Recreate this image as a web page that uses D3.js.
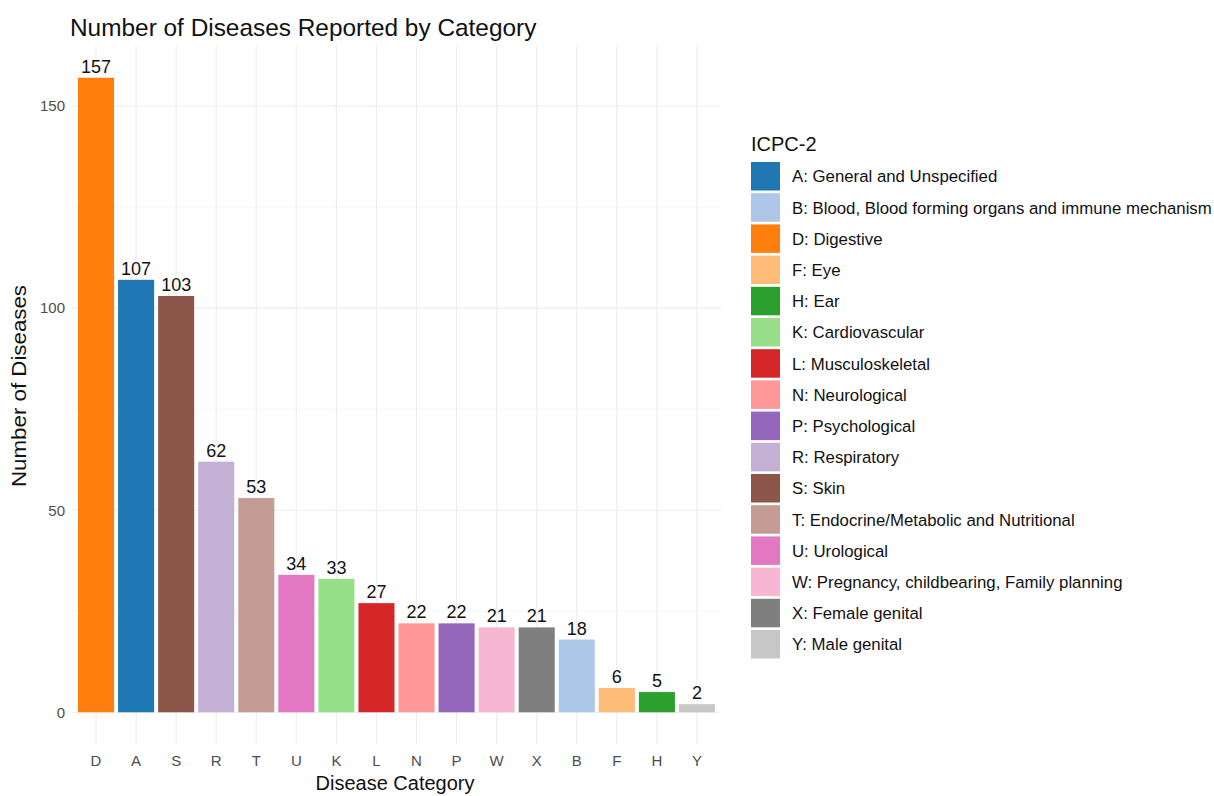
<!DOCTYPE html>
<html>
<head>
<meta charset="utf-8">
<script src="https://cdn.jsdelivr.net/npm/d3@7"></script>
<style>
  html, body { margin: 0; padding: 0; background: #fff; overflow: hidden; }
  svg { display: block; font-family: "Liberation Sans", Arial, sans-serif; }
</style>
</head>
<body>
<svg id="chart" width="1214" height="796"></svg>
<script>
// Categories in plotted order (sorted by count) and their counts
const categories = ["D", "A", "S", "R", "T", "U", "K", "L", "N", "P", "W", "X", "B", "F", "H", "Y"];
const counts = [157, 107, 103, 62, 53, 34, 33, 27, 22, 22, 21, 21, 18, 6, 5, 2];

// Legend entries (alphabetical) with their descriptions
const legendCodes = ["A", "B", "D", "F", "H", "K", "L", "N", "P", "R", "S", "T", "U", "W", "X", "Y"];
const legendLabels = [
  "A: General and Unspecified",
  "B: Blood, Blood forming organs and immune mechanism",
  "D: Digestive",
  "F: Eye",
  "H: Ear",
  "K: Cardiovascular",
  "L: Musculoskeletal",
  "N: Neurological",
  "P: Psychological",
  "R: Respiratory",
  "S: Skin",
  "T: Endocrine/Metabolic and Nutritional",
  "U: Urological",
  "W: Pregnancy, childbearing, Family planning",
  "X: Female genital",
  "Y: Male genital"
];
const legendColors = [
  "#1f77b4", "#aec7e8", "#ff7f0e", "#ffbb78", "#2ca02c", "#98df8a", "#d62728", "#ff9896",
  "#9467bd", "#c5b0d5", "#8c564b", "#c49c94", "#e377c2", "#f7b6d2", "#7f7f7f", "#c7c7c7"
];
const yTicks = [0, 50, 100, 150];
const yMinor = [25, 75, 125];

const data = categories.map((c, i) => ({ cat: c, value: counts[i] }));
const color = d3.scaleOrdinal().domain(legendCodes).range(legendColors);

const svg = d3.select("#chart");

// Panel geometry
const panel = { left: 72, right: 721, top: 46, bottom: 744 };
const nCat = categories.length;
const step = (panel.right - panel.left) / (nCat + 0.2);
const x = d3.scaleBand()
  .domain(categories)
  .range([panel.left + 0.6 * step - step / 2, panel.right - 0.6 * step + step / 2])
  .paddingInner(0.1)
  .paddingOuter(0.05);

const yMax = d3.max(counts);
const y = d3.scaleLinear()
  .domain([-0.05 * yMax, yMax * 1.05])
  .range([panel.bottom, panel.top]);

const grid = svg.append("g");
// minor horizontal grid
grid.selectAll("line.minor").data(yMinor).join("line")
  .attr("x1", panel.left).attr("x2", panel.right)
  .attr("y1", d => y(d)).attr("y2", d => y(d))
  .attr("stroke", "#f4f4f4").attr("stroke-width", 0.8);
// major horizontal grid
grid.selectAll("line.major").data(yTicks).join("line")
  .attr("x1", panel.left).attr("x2", panel.right)
  .attr("y1", d => y(d)).attr("y2", d => y(d))
  .attr("stroke", "#ededed").attr("stroke-width", 1.1);
// vertical grid
grid.selectAll("line.v").data(categories).join("line")
  .attr("x1", d => x(d) + x.bandwidth() / 2).attr("x2", d => x(d) + x.bandwidth() / 2)
  .attr("y1", panel.top).attr("y2", panel.bottom)
  .attr("stroke", "#ededed").attr("stroke-width", 1.1);

// Bars
svg.append("g").selectAll("rect").data(data).join("rect")
  .attr("x", d => x(d.cat))
  .attr("width", x.bandwidth())
  .attr("y", d => y(d.value))
  .attr("height", d => y(0) - y(d.value))
  .attr("fill", d => color(d.cat));

// Value labels
svg.append("g").selectAll("text").data(data).join("text")
  .attr("x", d => x(d.cat) + x.bandwidth() / 2)
  .attr("y", d => y(d.value) - 5)
  .attr("text-anchor", "middle")
  .attr("font-size", 18)
  .attr("fill", "#111")
  .text(d => d.value);

// Y axis tick labels
const yAxis = svg.append("g")
  .attr("transform", `translate(${panel.left - 7},0)`)
  .call(d3.axisLeft(y).tickValues(yTicks).tickSize(0).tickPadding(0));
yAxis.select(".domain").remove();
yAxis.selectAll("text")
  .attr("font-size", 15).attr("fill", "#4d4d4d")
  .attr("font-family", "Liberation Sans, Arial, sans-serif");

// X axis tick labels
const xAxis = svg.append("g")
  .attr("transform", `translate(0,${panel.bottom + 7})`)
  .call(d3.axisBottom(x).tickSize(0).tickPadding(4));
xAxis.select(".domain").remove();
xAxis.selectAll("text")
  .attr("font-size", 15).attr("fill", "#4d4d4d")
  .attr("font-family", "Liberation Sans, Arial, sans-serif");

// Axis titles
svg.append("text")
  .attr("x", 395).attr("y", 790)
  .attr("text-anchor", "middle").attr("font-size", 20).attr("fill", "#111")
  .text("Disease Category");
svg.append("text")
  .attr("transform", "translate(26,386) rotate(-90)")
  .attr("text-anchor", "middle").attr("font-size", 20).attr("fill", "#111")
  .attr("textLength", 202).attr("lengthAdjust", "spacingAndGlyphs")
  .text("Number of Diseases");

// Title
svg.append("text")
  .attr("x", 70).attr("y", 36)
  .attr("font-size", 24.4).attr("fill", "#111")
  .text("Number of Diseases Reported by Category");

// Legend
const legend = svg.append("g").attr("transform", "translate(751,0)");
legend.append("text")
  .attr("x", 0).attr("y", 151)
  .attr("font-size", 20).attr("fill", "#111")
  .text("ICPC-2");
const rowH = 31.2;
const rows = legend.selectAll("g.row").data(legendCodes).join("g")
  .attr("transform", (d, i) => `translate(0,${162 + i * rowH})`);
rows.append("rect")
  .attr("x", 0).attr("y", 0)
  .attr("width", 29).attr("height", 28.5)
  .attr("fill", d => color(d));
rows.append("text")
  .attr("x", 41).attr("y", 14.5)
  .attr("dy", "0.35em")
  .attr("font-size", 16.8).attr("fill", "#111")
  .text((d, i) => legendLabels[i]);
</script>
</body>
</html>
